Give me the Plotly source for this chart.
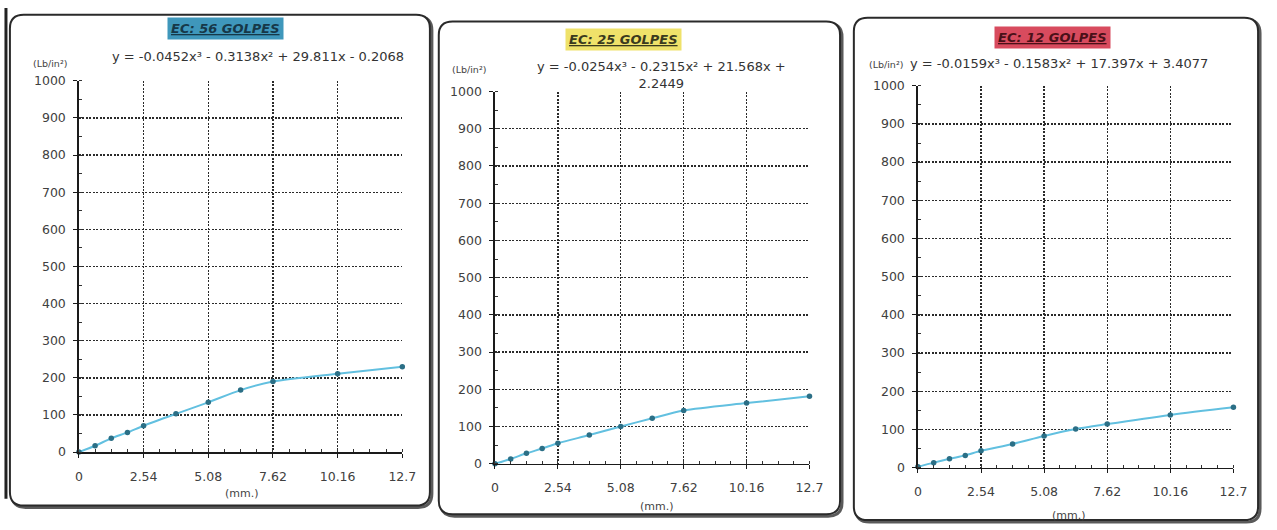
import plotly.graph_objects as go

# ---------------- data ----------------
pen_mm = [0, 0.635, 1.27, 1.905, 2.54, 3.81, 5.08, 6.35, 7.62, 10.16, 12.7]
load_56 = [0, 17, 37, 53, 71, 103, 134, 167, 190, 211, 230]
load_25 = [0, 13, 28, 41, 55, 77, 100, 122, 143, 163, 181]
load_12 = [2, 13, 23, 32, 44, 62, 83, 101, 114, 138, 158]
x_ticks = [0, 2.54, 5.08, 7.62, 10.16, 12.7]
x_tick_text = ["0", "2.54", "5.08", "7.62", "10.16", "12.7"]
y_ticks = [0, 100, 200, 300, 400, 500, 600, 700, 800, 900, 1000]
titles = ["EC: 56 GOLPES", "EC: 25 GOLPES", "EC: 12 GOLPES"]
equations = [
    "y = -0.0452x³ - 0.3138x² + 29.811x - 0.2068",
    "y = -0.0254x³ - 0.2315x² + 21.568x +<br>2.2449",
    "y = -0.0159x³ - 0.1583x² + 17.397x + 3.4077",
]
series = [load_56, load_25, load_12]

# ---------------- layout helpers ----------------
W, H = 1277, 530
def px(x):
    return x / W
def py(y):
    return 1 - y / H

# plot area pixel boxes: (x_left, x_right, y_at_1000, y_at_0)
areas = [(76, 404, 75, 457), (498, 817, 86, 469), (927, 1247, 80, 473)]
boxes = [(6, 7, 432, 512), (441, 14, 848, 521), (862, 10, 1272, 527)]
title_pos = [(225, 21), (628, 32), (1063, 30)]
title_bg = ["#3f97bb", "#efe26a", "#d84b5e"]
title_fc = ["#163848", "#3a3a1e", "#4a1018"]
eq_pos = [(258, 50), (667, 69), (1070, 57)]
unit_pos = [(47, 57), (472, 63), (895, 58)]
mm_pos = [(241, 500), (662, 513), (1080, 522)]

fig = go.Figure()
FONT = "DejaVu Sans, Liberation Sans, Arial, sans-serif"

def rrect(x0, y0, x1, y1, r):
    pts = [
        ("M", (x0 + r, y0)), ("L", (x1 - r, y0)), ("Q", (x1, y0), (x1, y0 + r)),
        ("L", (x1, y1 - r)), ("Q", (x1, y1), (x1 - r, y1)),
        ("L", (x0 + r, y1)), ("Q", (x0, y1), (x0, y1 - r)),
        ("L", (x0, y0 + r)), ("Q", (x0, y0), (x0 + r, y0)),
    ]
    s = ""
    for p in pts:
        cmd = p[0]
        coords = " ".join(f"{px(a):.5f},{py(b):.5f}" for a, b in p[1:])
        s += f"{cmd} {coords} "
    return s + "Z"

shapes = []
annotations = []
for i in range(3):
    bx0, by0, bx1, by1 = boxes[i]
    # shadow
    shapes.append(dict(type="path", xref="paper", yref="paper",
                       path=rrect(bx0 + 2, by0 + 2, bx1 + 2, by1 + 2, 14),
                       line=dict(color="#5a5a5a", width=3), layer="below"))
    shapes.append(dict(type="path", xref="paper", yref="paper",
                       path=rrect(bx0, by0, bx1, by1, 14),
                       line=dict(color="#2a2a2a", width=2), fillcolor="white", layer="below"))

    xl, xr, yt, yb = areas[i]
    sfx = "" if i == 0 else str(i + 1)
    xa = "xaxis" + sfx
    ya = "yaxis" + sfx
    fig.add_trace(go.Scatter(
        x=pen_mm, y=series[i], mode="lines+markers",
        line=dict(color="#62c0e0", width=2, shape="spline", smoothing=0.8),
        marker=dict(color="#2b6f86", size=5.5),
        cliponaxis=False, showlegend=False, hoverinfo="skip",
        xaxis="x" + sfx, yaxis="y" + sfx))

    axis_common = dict(
        showgrid=True, gridcolor="#2a2a2a", gridwidth=1.4, griddash="2px,1.5px",
        showline=True, linecolor="#1a1a1a", linewidth=1.6,
        ticks="outside", ticklen=4, tickcolor="#1a1a1a",
        tickfont=dict(family=FONT, size=12.5, color="#404040"),
        zeroline=False, fixedrange=True,
    )
    fig.layout[xa] = dict(
        axis_common, domain=[px(xl), px(xr)], range=[0, 12.7],
        tickvals=x_ticks, ticktext=x_tick_text, anchor="y" + sfx,
        ticklabelstandoff=8,
        minor=dict(dtick=0.635, tick0=0, ticks="inside", ticklen=3, tickcolor="#333", showgrid=False),
    )
    fig.layout[ya] = dict(
        axis_common, domain=[py(yb), py(yt)], range=[0, 1000],
        tickvals=y_ticks, anchor="x" + sfx, ticklabelstandoff=5,
        minor=dict(dtick=50, tick0=0, ticks="inside", ticklen=3, tickcolor="#333", showgrid=False),
    )

    tx, ty = title_pos[i]
    annotations.append(dict(
        xref="paper", yref="paper", x=px(tx), y=py(ty), showarrow=False,
        text=f"<b><i><u>{titles[i]}</u></i></b>", bgcolor=title_bg[i], borderpad=3,
        font=dict(family=FONT, size=13, color=title_fc[i]), xanchor="center", yanchor="middle"))
    ex, ey = eq_pos[i]
    annotations.append(dict(
        xref="paper", yref="paper", x=px(ex), y=py(ey), showarrow=False,
        text=equations[i], font=dict(family=FONT, size=13, color="#333"),
        xanchor="center", yanchor="middle", align="center"))
    ux, uy = unit_pos[i]
    annotations.append(dict(
        xref="paper", yref="paper", x=px(ux), y=py(uy), showarrow=False,
        text="(Lb/in²)", font=dict(family=FONT, size=9.5, color="#444"),
        xanchor="center", yanchor="middle"))
    mx, my = mm_pos[i]
    annotations.append(dict(
        xref="paper", yref="paper", x=px(mx), y=py(my), showarrow=False,
        text="(mm.)", font=dict(family=FONT, size=11, color="#444"),
        xanchor="center", yanchor="middle"))

# page edge line at left
shapes.append(dict(type="line", xref="paper", yref="paper", x0=px(2), x1=px(2), y0=py(0), y1=py(505),
                   line=dict(color="#222", width=3), layer="below"))

fig.update_layout(
    width=W, height=H, margin=dict(l=0, r=0, t=0, b=0),
    paper_bgcolor="white", plot_bgcolor="rgba(0,0,0,0)",
    shapes=shapes, annotations=annotations,
    font=dict(family=FONT), hovermode=False,
)

fig.write_html(
    "out.html",
    config={"displayModeBar": False, "staticPlot": True},
    post_script="document.body.style.margin='0';document.body.style.overflow='hidden';",
)
